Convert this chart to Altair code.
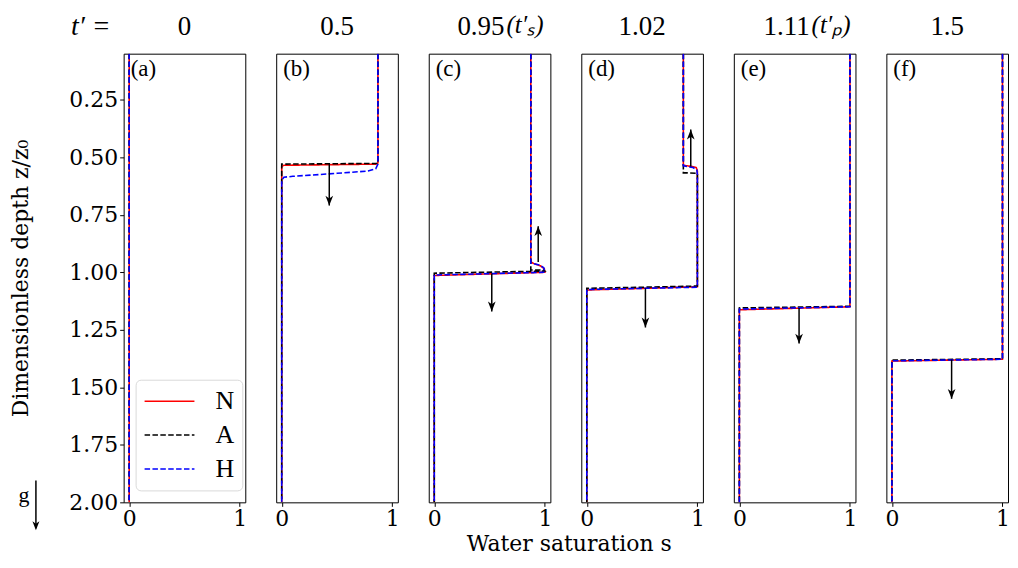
import altair as alt
import pandas as pd

# ---------------- data ----------------
titles = ["0", "0.5", "0.95", "1.02", "1.11", "1.5"]
title_suffix = ["", "", "(t′ₛ)", "", "(t′ₚ)", ""]
panel_labels = ["(a)", "(b)", "(c)", "(d)", "(e)", "(f)"]
models = ["N", "A", "H"]
colors = ["#ff0000", "#000000", "#0000ff"]
dashes = [[1, 0], [5.5, 2.4], [5.5, 2.4]]

# panel (a)  t' = 0
a_N_s = [0.0, 0.0]
a_N_z = [0.05, 2.0]
a_A_s = [0.0, 0.0]
a_A_z = [0.05, 2.0]
a_H_s = [0.0, 0.0]
a_H_z = [0.05, 2.0]

# panel (b)  t' = 0.5
b_N_s = [0.87, 0.87, 0.85, 0.02, 0.0, 0.0]
b_N_z = [0.05, 0.525, 0.53, 0.535, 0.54, 2.0]
b_A_s = [0.87, 0.87, 0.0, 0.0]
b_A_z = [0.05, 0.527, 0.53, 2.0]
b_H_s = [0.87, 0.87, 0.85, 0.78, 0.5, 0.1, 0.02, 0.0, 0.0]
b_H_z = [0.05, 0.53, 0.55, 0.56, 0.57, 0.583, 0.587, 0.6, 2.0]

# panel (c)  t' = 0.95
c_N_s = [0.873, 0.873, 0.9, 0.96, 0.995, 1.0, 0.0, 0.0]
c_N_z = [0.05, 0.955, 0.962, 0.972, 0.985, 1.0, 1.014, 2.0]
c_A_s = [0.873, 0.873, 0.99, 1.0, 0.0, 0.0]
c_A_z = [0.05, 0.99, 0.99, 0.995, 1.004, 2.0]
c_H_s = [0.873, 0.873, 0.95, 0.99, 1.0, 0.0, 0.0]
c_H_z = [0.05, 0.96, 0.968, 0.98, 1.0, 1.012, 2.0]

# panel (d)  t' = 1.02
d_N_s = [0.873, 0.873, 0.95, 0.99, 1.0, 1.0, 0.0, 0.0]
d_N_z = [0.05, 0.535, 0.54, 0.545, 0.56, 1.063, 1.077, 2.0]
d_A_s = [0.873, 0.873, 0.91, 1.0, 1.0, 0.0, 0.0]
d_A_z = [0.05, 0.568, 0.568, 0.57, 1.06, 1.07, 2.0]
d_H_s = [0.873, 0.873, 0.96, 0.995, 1.0, 1.0, 0.0, 0.0]
d_H_z = [0.05, 0.537, 0.545, 0.555, 0.575, 1.065, 1.075, 2.0]

# panel (e)  t' = 1.11
e_N_s = [1.0, 1.0, 0.0, 0.0]
e_N_z = [0.05, 1.15, 1.163, 2.0]
e_A_s = [1.0, 1.0, 0.0, 0.0]
e_A_z = [0.05, 1.148, 1.155, 2.0]
e_H_s = [1.0, 1.0, 0.0, 0.0]
e_H_z = [0.05, 1.15, 1.16, 2.0]

# panel (f)  t' = 1.5
f_N_s = [1.0, 1.0, 0.0, 0.0]
f_N_z = [0.05, 1.378, 1.386, 2.0]
f_A_s = [1.0, 1.0, 0.0, 0.0]
f_A_z = [0.05, 1.376, 1.382, 2.0]
f_H_s = [1.0, 1.0, 0.0, 0.0]
f_H_z = [0.05, 1.378, 1.385, 2.0]

# front-motion arrows
arrow_panel = [1, 2, 2, 3, 3, 4, 5]
arrow_s = [0.43, 0.94, 0.52, 0.94, 0.53, 0.54, 0.54]
arrow_from = [0.53, 0.955, 1.005, 0.54, 1.07, 1.155, 1.38]
arrow_to = [0.71, 0.80, 1.17, 0.38, 1.24, 1.31, 1.55]

y_ticks = [0.25, 0.5, 0.75, 1.0, 1.25, 1.5, 1.75, 2.0]
x_ticks = [0, 1]

profiles = [
    [(a_N_s, a_N_z), (a_A_s, a_A_z), (a_H_s, a_H_z)],
    [(b_N_s, b_N_z), (b_A_s, b_A_z), (b_H_s, b_H_z)],
    [(c_N_s, c_N_z), (c_A_s, c_A_z), (c_H_s, c_H_z)],
    [(d_N_s, d_N_z), (d_A_s, d_A_z), (d_H_s, d_H_z)],
    [(e_N_s, e_N_z), (e_A_s, e_A_z), (e_H_s, e_H_z)],
    [(f_N_s, f_N_z), (f_A_s, f_A_z), (f_H_s, f_H_z)],
]

rows = []
for p, prof in enumerate(profiles):
    for m, (ss, zz) in zip(models, prof):
        for k, (s, z) in enumerate(zip(ss, zz)):
            rows.append({"panel": p, "model": m, "idx": k, "s": s, "z": z})
df = pd.DataFrame(rows)

arrows = pd.DataFrame({"panel": arrow_panel, "s": arrow_s, "z0": arrow_from, "z1": arrow_to})

# ---------------- chart ----------------
W, H = 122, 450
xscale = alt.Scale(domain=[-0.05, 1.05], nice=False, zero=False)
yscale = alt.Scale(domain=[0.05, 2.0], nice=False, zero=False, reverse=True)

axis_common = dict(labelFont="DejaVu Serif", labelFontSize=22, labelColor="black",
                   tickColor="black", tickSize=4, tickWidth=1, labelPadding=2,
                   domain=False, grid=False, labelFlush=False)
xaxis = alt.Axis(values=x_ticks, title=None, format="d", **axis_common)
yaxis = alt.Axis(values=y_ticks, format=".2f", title="Dimensionless depth z/z₀",
                 titleFont="DejaVu Serif", titleFontSize=22, titleFontWeight="normal",
                 titlePadding=36, titleColor="black", **axis_common)

legend = alt.Legend(title=None, orient="bottom-left", offset=12, symbolType="M-1,0L3,0",
                    symbolSize=625, symbolStrokeWidth=1.5, labelFont="Liberation Serif",
                    labelFontSize=26, labelOffset=45, padding=8, rowPadding=7,
                    strokeColor="#d9d9d9", fillColor="white", cornerRadius=5,
                    labelColor="black")

down_head = "M0,0L-0.7,-1.8L0,-1.3L0.7,-1.8Z"
up_head = "M0,0L-0.7,1.8L0,1.3L0.7,1.8Z"

one = pd.DataFrame({"k": [0]})


def text_layer(txt, x, y, size, align="center", style="normal", font="Liberation Serif"):
    return (alt.Chart(pd.DataFrame({"t": [txt]}))
            .mark_text(align=align, baseline="middle", font=font, fontSize=size,
                       fontStyle=style, color="black")
            .encode(x=alt.value(x), y=alt.value(y), text="t:N"))


def make_panel(i):
    sub = df[df.panel == i]
    layers = []
    for m in models:
        layers.append(
            alt.Chart(sub).transform_filter(alt.datum.model == m)
            .mark_line(clip=True, strokeWidth=1.6)
            .encode(
                x=alt.X("s:Q", scale=xscale, axis=xaxis),
                y=alt.Y("z:Q", scale=yscale, axis=yaxis if i == 0 else None),
                color=alt.Color("model:N", scale=alt.Scale(domain=models, range=colors),
                                legend=legend if i == 0 else None),
                strokeDash=alt.StrokeDash("model:N", scale=alt.Scale(domain=models, range=dashes),
                                          legend=legend if i == 0 else None),
                order="idx:Q",
            )
        )
    arr = arrows[arrows.panel == i]
    if len(arr):
        base = alt.Chart(arr)
        layers.append(base.mark_rule(color="black", strokeWidth=1.5).encode(
            x="s:Q", y="z0:Q", y2="z1:Q"))
        layers.append(base.transform_filter(alt.datum.z1 > alt.datum.z0)
                      .mark_point(shape=down_head, filled=True, color="black", size=121, opacity=1)
                      .encode(x="s:Q", y="z1:Q"))
        layers.append(base.transform_filter(alt.datum.z1 < alt.datum.z0)
                      .mark_point(shape=up_head, filled=True, color="black", size=121, opacity=1)
                      .encode(x="s:Q", y="z1:Q"))
    # panel letter
    layers.append(text_layer(panel_labels[i], 7, 15, 23, align="left"))
    # time title
    if title_suffix[i]:
        layers.append(text_layer(titles[i], 76, -27, 27, align="right"))
        layers.append(text_layer(title_suffix[i], 78, -29, 25, align="left", style="italic"))
    else:
        layers.append(text_layer(titles[i], W / 2, -27, 27))
    if i == 0:
        layers.append(text_layer("t′ =", -33, -27, 28, style="italic"))
        layers.append(text_layer("g", -100, 443, 22))
        layers.append(
            alt.Chart(one).mark_rule(color="black", strokeWidth=1.5)
            .encode(x=alt.value(-88), y=alt.value(428), y2=alt.value(476))
        )
        layers.append(
            alt.Chart(one).mark_point(shape=down_head, filled=True, color="black", size=100, opacity=1)
            .encode(x=alt.value(-88), y=alt.value(478))
        )
    if i == 3:
        layers.append(text_layer("Water saturation s", -12, H + 42, 22, font="DejaVu Serif"))
    return alt.layer(*layers).properties(width=W, height=H)


chart = alt.hconcat(
    *[make_panel(i) for i in range(6)],
    spacing=31,
    bounds="flush",
).resolve_scale(color="independent", strokeDash="independent").properties(
    padding={"left": 1, "top": 3, "right": 0, "bottom": 0}, background="white"
).configure_view(stroke="black", strokeWidth=1)

chart.save("out.html", embed_options={"renderer": "svg", "actions": False})
